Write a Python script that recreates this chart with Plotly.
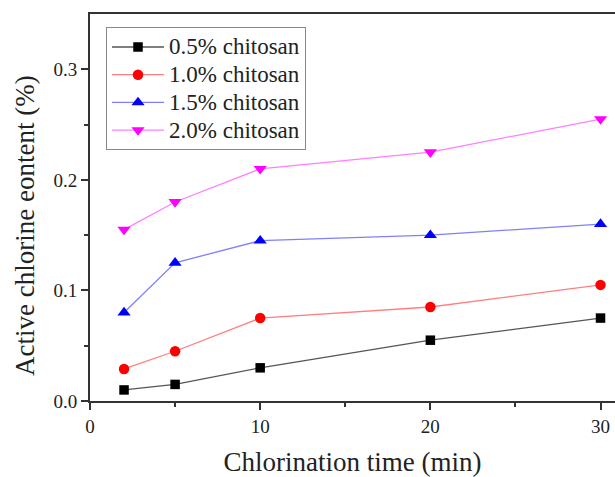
import plotly.graph_objects as go

time_min = [2, 5, 10, 20, 30]
series_names = ["0.5% chitosan", "1.0% chitosan", "1.5% chitosan", "2.0% chitosan"]
c05 = [0.010, 0.015, 0.030, 0.055, 0.075]
c10 = [0.029, 0.045, 0.075, 0.085, 0.105]
c15 = [0.080, 0.125, 0.145, 0.150, 0.160]
c20 = [0.155, 0.180, 0.210, 0.225, 0.255]
x_title = "Chlorination time (min)"
y_title = "Active chlorine eontent (%)"

values = [c05, c10, c15, c20]
line_colors = ["#555555", "#ff7f7f", "#7f7fff", "#ff7fff"]
marker_colors = ["#000000", "#ff0000", "#0000ff", "#ff00ff"]
symbols = ["square", "circle", "triangle-up", "triangle-down"]
sizes = [9.5, 10.5, 11.5, 11.5]

fig = go.Figure()
for name, ys, lc, mc, sym, sz in zip(series_names, values, line_colors, marker_colors, symbols, sizes):
    fig.add_trace(go.Scatter(
        x=time_min, y=ys, name='<span style="font-size:23px">' + name + '</span>',
        mode="lines+markers",
        line=dict(color=lc, width=1.3),
        marker=dict(color=mc, symbol=sym, size=sz, line=dict(width=0)),
    ))

font_family = "Liberation Serif, Times New Roman, serif"
axis_common = dict(
    showgrid=False, zeroline=False, showline=True, linecolor="#333333", linewidth=2,
    ticks="outside", ticklen=7, tickwidth=1.5, tickcolor="#333333", automargin=False,
    tickfont=dict(family=font_family, size=19, color="#222222"),
)

fig.update_layout(
    width=615, height=477,
    margin=dict(l=90, r=0, t=14, b=76),
    paper_bgcolor="white", plot_bgcolor="white",
    font=dict(family=font_family, color="#222222"),
    showlegend=True,
    legend=dict(
        x=0.0305, y=0.966, xanchor="left", yanchor="top",
        bordercolor="#888888", borderwidth=1, bgcolor="white",
        font=dict(family=font_family, size=19, color="#222222"),
        tracegroupgap=0, itemwidth=52,
    ),
    xaxis=dict(
        range=[0, 30.85], tickvals=[0, 10, 20, 30], mirror=True,
        minor=dict(tickvals=[5, 15, 25], ticks="outside", ticklen=4, tickwidth=1.5, tickcolor="#333333"),
        title=dict(text=x_title, font=dict(family=font_family, size=27, color="#222222"), standoff=19),
        **axis_common,
    ),
    yaxis=dict(
        range=[0, 0.35], tickvals=[0.0, 0.1, 0.2, 0.3], ticktext=["0.0", "0.1", "0.2", "0.3"], mirror=False,
        minor=dict(tickvals=[0.05, 0.15, 0.25], ticks="outside", ticklen=4, tickwidth=1.5, tickcolor="#333333"),
        **axis_common,
    ),
    annotations=[dict(
        text=y_title, textangle=-90, xref="paper", yref="paper",
        x=(25 - 90) / 525, y=(401 - 226) / 387, xanchor="center", yanchor="middle",
        showarrow=False, font=dict(family=font_family, size=27, color="#222222"),
    )],
)

fig.write_html("out.html", config={"displayModeBar": False},
               post_script="document.body.style.margin='0';document.body.style.overflow='hidden';")
